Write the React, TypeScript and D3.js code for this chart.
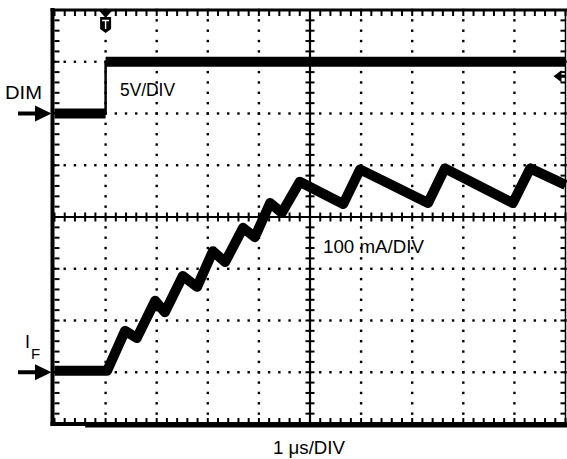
import React, { useRef, useEffect } from 'react';
import * as d3 from 'd3';

// scope settings
const H_DIVS = 10;
const V_DIVS = 8;
const MINOR = 5;

// DIM channel (5 V/div, ground at +2 div)
const dimTimes = [0, 1.0, 1.0, 10];
const dimVolts = [0, 0, 5, 5];
const DIM_OFFSET_DIV = 2;
const DIM_V_PER_DIV = 5;

// I_F channel (100 mA/div, ground at -3 div)
const ifTimes = [0, 1.03, 1.38, 1.61, 1.97, 2.16, 2.51, 2.79, 3.1, 3.34, 3.69, 3.92, 4.22, 4.45, 4.8, 5.65, 5.98, 7.31, 7.64, 8.97, 9.31, 10];
const ifCurrents = [3, 3, 80, 66, 138, 116, 186, 165, 234, 213, 279, 261, 327, 308, 368, 325, 392, 327, 394, 327, 394, 362];
const IF_OFFSET_DIV = -3;
const IF_MA_PER_DIV = 100;

const TRIGGER_TIME = 1.0;
const TRIGGER_LEVEL_V = 3.6;

const labels = {
  dim: 'DIM',
  ifMain: 'I',
  ifSub: 'F',
  dimScale: '5V/DIV',
  ifScale: '100 mA/DIV',
  timeScale: '1 μs/DIV',
};

const FONT = '"Liberation Sans", Arial, Helvetica, sans-serif';

const ScopeChart: React.FC = () => {
  const svgRef = useRef<SVGSVGElement | null>(null);

  useEffect(() => {
    if (!svgRef.current) return;
    const svg = d3.select(svgRef.current);
    svg.selectAll('*').remove();

    const left = 54.5, right = 565.5, top = 10, bottom = 424;

    const x = d3.scaleLinear().domain([0, H_DIVS]).range([left, right]);
    const yDiv = d3.scaleLinear().domain([-V_DIVS / 2, V_DIVS / 2]).range([bottom, top]);
    const yDim = (v: number) => yDiv(v / DIM_V_PER_DIV + DIM_OFFSET_DIV);
    const yIf = (ma: number) => yDiv(ma / IF_MA_PER_DIV + IF_OFFSET_DIV);

    const g = svg.append('g');

    // dotted grid
    const dots: [number, number][] = [];
    for (let j = 1; j < V_DIVS; j++) {
      if (j === V_DIVS / 2) continue;
      for (let k = 0; k <= H_DIVS * MINOR; k++) dots.push([k / MINOR, j - V_DIVS / 2]);
    }
    for (let i = 1; i < H_DIVS; i++) {
      if (i === H_DIVS / 2) continue;
      for (let k = 0; k <= V_DIVS * MINOR; k++) dots.push([i, k / MINOR - V_DIVS / 2]);
    }
    g.selectAll('.dot')
      .data(dots)
      .enter().append('rect')
      .attr('class', 'dot')
      .attr('x', d => x(d[0]) - 1.2)
      .attr('y', d => yDiv(d[1]) - 1.2)
      .attr('width', 2.4)
      .attr('height', 2.4)
      .attr('fill', '#000');

    // center axes with minor ticks
    g.append('line')
      .attr('x1', left).attr('x2', right)
      .attr('y1', yDiv(0)).attr('y2', yDiv(0))
      .attr('stroke', '#000').attr('stroke-width', 2.2);
    g.append('line')
      .attr('x1', x(H_DIVS / 2)).attr('x2', x(H_DIVS / 2))
      .attr('y1', top).attr('y2', bottom)
      .attr('stroke', '#000').attr('stroke-width', 2.2);

    const hTicks = d3.range(0, H_DIVS * MINOR + 1).map(k => k / MINOR);
    const vTicks = d3.range(0, V_DIVS * MINOR + 1).map(k => k / MINOR - V_DIVS / 2);

    const tick = (x1: number, y1: number, x2: number, y2: number) =>
      g.append('line').attr('x1', x1).attr('y1', y1).attr('x2', x2).attr('y2', y2)
        .attr('stroke', '#000').attr('stroke-width', 2);

    hTicks.forEach(t => {
      tick(x(t), yDiv(0) - 4.5, x(t), yDiv(0) + 4.5);
      tick(x(t), top, x(t), top + 6);
      tick(x(t), bottom, x(t), bottom - 6);
    });
    vTicks.forEach(t => {
      tick(x(H_DIVS / 2) - 4.5, yDiv(t), x(H_DIVS / 2) + 4.5, yDiv(t));
      tick(left, yDiv(t), left + 5, yDiv(t));
      tick(right, yDiv(t), right - 5, yDiv(t));
    });

    // frame
    g.append('line').attr('x1', left - 2).attr('x2', left - 2).attr('y1', top - 2).attr('y2', bottom + 2)
      .attr('stroke', '#000').attr('stroke-width', 4);
    g.append('line').attr('x1', left - 4).attr('x2', right + 2).attr('y1', top).attr('y2', top)
      .attr('stroke', '#000').attr('stroke-width', 3);
    g.append('line').attr('x1', left - 4).attr('x2', right + 2).attr('y1', bottom).attr('y2', bottom)
      .attr('stroke', '#000').attr('stroke-width', 4);
    g.append('line').attr('x1', x(0.6)).attr('x2', right + 2).attr('y1', bottom + 2).attr('y2', bottom + 2)
      .attr('stroke', '#000').attr('stroke-width', 3);
    g.append('line').attr('x1', right).attr('x2', right).attr('y1', top).attr('y2', bottom)
      .attr('stroke', '#000').attr('stroke-width', 1.5);

    // DIM trace: thick noisy flats, thin edge
    const dimPts = dimTimes.map((t, i) => [t, dimVolts[i]] as [number, number]);
    const dimLine = d3.line<[number, number]>().x(d => x(d[0])).y(d => yDim(d[1]));
    g.append('path').datum(dimPts.slice(0, 2)).attr('d', dimLine)
      .attr('fill', 'none').attr('stroke', '#000').attr('stroke-width', 10);
    g.append('path').datum(dimPts.slice(2)).attr('d', dimLine)
      .attr('fill', 'none').attr('stroke', '#000').attr('stroke-width', 10);
    g.append('path').datum(dimPts.slice(1, 3)).attr('d', dimLine)
      .attr('fill', 'none').attr('stroke', '#000').attr('stroke-width', 2.5);

    // I_F trace
    const ifPts = ifTimes.map((t, i) => [t, ifCurrents[i]] as [number, number]);
    const ifLine = d3.line<[number, number]>().x(d => x(d[0])).y(d => yIf(d[1]));
    g.append('path').datum(ifPts).attr('d', ifLine)
      .attr('fill', 'none').attr('stroke', '#000').attr('stroke-width', 10)
      .attr('stroke-linejoin', 'round');

    // ground arrows
    const arrow = (yy: number) => {
      g.append('line').attr('x1', 18).attr('x2', 40).attr('y1', yy).attr('y2', yy)
        .attr('stroke', '#000').attr('stroke-width', 4);
      g.append('path').attr('d', `M${left - 3},${yy} L35,${yy - 8} L35,${yy + 8} Z`).attr('fill', '#000');
    };
    arrow(yDim(0));
    arrow(yIf(0));

    // trigger level marker (right)
    const ty = yDim(TRIGGER_LEVEL_V);
    g.append('path').attr('d', `M${right - 12},${ty} L${right - 4},${ty - 6} L${right - 4},${ty + 6} Z`).attr('fill', '#000');
    g.append('line').attr('x1', right - 6).attr('x2', right).attr('y1', ty).attr('y2', ty)
      .attr('stroke', '#000').attr('stroke-width', 3);

    // trigger time marker (top)
    const tx = x(TRIGGER_TIME);
    g.append('path').attr('d', `M${tx - 7},${top} L${tx + 7},${top} L${tx},${top + 8} Z`).attr('fill', '#000');
    g.append('path')
      .attr('d', `M${tx - 5.5},${top + 7} L${tx + 5.5},${top + 7} L${tx + 5.5},${top + 19} L${tx},${top + 23} L${tx - 5.5},${top + 19} Z`)
      .attr('fill', '#000');
    g.append('path').attr('d', `M${tx - 3.5},${top + 10.5} L${tx + 3.5},${top + 10.5} M${tx},${top + 10.5} L${tx},${top + 19}`)
      .attr('stroke', '#fff').attr('stroke-width', 1.4).attr('fill', 'none');

    // text
    const text = (s: string, xx: number, yy: number, size: number, len?: number) => {
      const t = g.append('text').attr('x', xx).attr('y', yy)
        .attr('font-family', FONT).attr('font-size', size).attr('fill', '#000').text(s);
      if (len) t.attr('textLength', len).attr('lengthAdjust', 'spacingAndGlyphs');
      return t;
    };
    text(labels.dim, 5, 99, 17.5, 37);
    text(labels.dimScale, 120, 96, 17.5, 55);
    text(labels.ifScale, 323, 253, 18.5, 101);
    text(labels.timeScale, 273, 454, 18, 72);
    text(labels.ifMain, 25, 348, 18);
    text(labels.ifSub, 31, 359, 15);
  }, []);

  return <svg ref={svgRef} width={567} height={459} style={{ display: 'block' }} />;
};

export default function App() {
  return (
    <div style={{ position: 'absolute', left: 0, top: 0, background: '#fff' }}>
      <ScopeChart />
    </div>
  );
}
